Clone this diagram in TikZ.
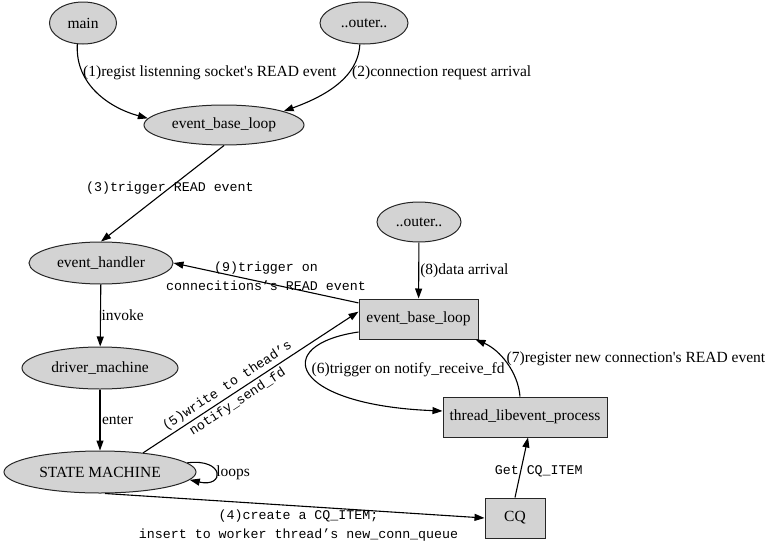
\documentclass[tikz,border=0pt]{standalone}
\usepackage{fontspec}
\setmainfont{Liberation Serif}
\newfontfamily\monof{Liberation Mono}
\usetikzlibrary{shapes.geometric,arrows.meta}
\definecolor{gvgray}{HTML}{D3D3D3}
\newcommand{\serlab}{\fontsize{15.5}{18}\selectfont}
\newcommand{\monolab}{\monof\fontsize{13.3}{19}\selectfont}
\tikzset{
  ell/.style={ellipse, draw=black!85, fill=gvgray, line width=1pt, inner sep=0pt, font=\serlab},
  box/.style={rectangle, draw=black!85, fill=gvgray, line width=1pt, inner sep=0pt, font=\serlab},
  edge/.style={-{Triangle[length=10pt,width=7pt]}, line width=1.1pt, black},
  lab/.style={font=\serlab, inner sep=1pt},
  mlab/.style={font=\monolab, align=center, inner sep=1pt}
}
\begin{document}
\begin{tikzpicture}[x=1pt,y=-1pt]
\useasboundingbox (0,0) rectangle (768,549);
% nodes
\node[ell, minimum width=67, minimum height=42] (main) at (83,23) {main};
\node[ell, minimum width=88, minimum height=42] (outA) at (364,23) {..outer..};
\node[ell, minimum width=160, minimum height=40] (eblA) at (224,125) {event\_base\_loop};
\node[ell, minimum width=144, minimum height=42] (eh) at (101,263) {event\_handler};
\node[ell, minimum width=156, minimum height=42] (dm) at (100,368) {driver\_machine};
\node[ell, minimum width=192, minimum height=42] (sm) at (100,472) {STATE MACHINE};
\node[ell, minimum width=84, minimum height=40] (outB) at (419,222) {..outer..};
\node[box, minimum width=119, minimum height=40] (eblB) at (418.5,319) {event\_base\_loop};
\node[box, minimum width=164, minimum height=40] (tlp) at (525,417) {thread\_libevent\_process};
\node[box, minimum width=60, minimum height=40] (cq) at (515,518) {CQ};
% edges
\draw[edge] (main.255) .. controls (75,85) and (110,108) .. (eblA.175);
\node[lab, anchor=west] (l1) at (82,73) {(1)regist listenning socket\textquotesingle s READ event};
\draw[edge] (outA.259) .. controls (358,80) and (320,98) .. (eblA.13);
\node[lab, anchor=west] (l2) at (351,73) {(2)connection request arrival};
\draw[edge] (eblA.south) -- node[mlab, pos=0.44] {(3)trigger READ event} (eh.north);
\draw[edge] (eh) -- node[lab, anchor=west, inner sep=0pt, xshift=0.5pt] {invoke} (dm);
\draw[edge] (dm) -- node[lab, anchor=west, inner sep=0pt, xshift=1.5pt] {enter} (sm);
\draw[edge] (sm.6) .. controls (225,458) and (225,488) .. (sm.-5)
  node[lab, pos=0.5, anchor=west, inner sep=0pt] {loops};
\draw[edge] (sm.24) -- node[mlab, pos=0.415, sloped] {(5)write to thead’s\\notify\_send\_fd} (eblB.173);
\draw[edge] (eblB.165) -- node[mlab, pos=0.5, yshift=7pt] {(9)trigger on\\connecitions’s READ event} (eh.east);
\draw[edge] (outB) -- node[lab, anchor=west, inner sep=0pt, xshift=1pt] {(8)data arrival} (eblB);
\draw[edge] ([yshift=-13pt]eblB.west) .. controls (270,345) and (290,405) .. ([yshift=6pt]tlp.west)
  node[lab, pos=0.5, anchor=west, yshift=4pt] {(6)trigger on notify\_receive\_fd};
\draw[edge] ([xshift=-5pt]tlp.north) .. controls (518,372) and (500,350) .. ([xshift=-3pt]eblB.south east)
  node[lab, pos=0.5, anchor=west, inner sep=0pt, yshift=4pt] {(7)register new connection\textquotesingle s READ event};
\draw[edge] ([xshift=5pt]sm.south) -- node[mlab, pos=0.51, anchor=north, inner sep=3pt] {(4)create a CQ\_ITEM;\\insert to worker thread’s new\_conn\_queue} (cq.west);
\draw[edge] (cq.north) -- node[mlab, pos=0.44, xshift=18pt] {Get CQ\_ITEM} ([xshift=3pt]tlp.south);
\end{tikzpicture}
\end{document}
